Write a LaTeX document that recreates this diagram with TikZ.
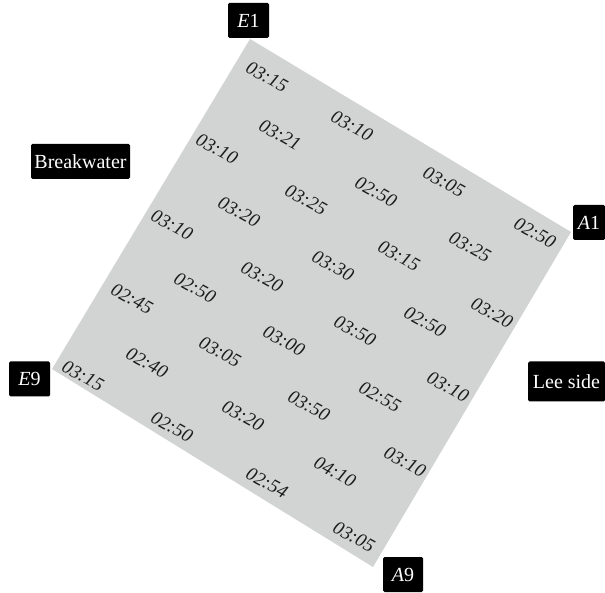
\documentclass[tikz,border=0pt]{standalone}
\usepackage{fontspec}
\setmainfont{Liberation Serif}
\definecolor{plate}{RGB}{210,211,211}
\definecolor{ink}{RGB}{28,28,28}
\begin{document}
\begin{tikzpicture}[x=1pt,y=-1pt,
  tag/.style={fill=black,text=white,rounded corners=1.5pt,inner sep=0pt,
    minimum height=35pt,font=\fontsize{20}{22}\selectfont},
  time/.style={rotate=-29,text=ink,inner sep=0pt,
    font=\fontsize{19}{21}\selectfont\itshape}]
\useasboundingbox (0,0) rectangle (605,593);

% corners of the measured plot
\coordinate (cE1) at (250,39);
\coordinate (cA1) at (571,232);
\coordinate (cA9) at (373,567);
\coordinate (cE9) at (52,369);
\fill[plate] (cE1) -- (cA1) -- (cA9) -- (cE9) -- cycle;

% corner and side labels
\node[tag,minimum width=41pt] (lE1) at (248.5,20.5) {{\itshape E}1};
\node[tag,minimum width=32pt] (lA1) at (589,222.5) {{\itshape A}1};
\node[tag,minimum width=40pt] (lA9) at (403,574.5) {{\itshape A}9};
\node[tag,minimum width=41pt] (lE9) at (29.5,379) {{\itshape E}9};
\node[tag,minimum width=99pt] (lBW) at (80.5,161.5) {Breakwater};
\node[tag,minimum width=77pt,minimum height=40pt] (lLS) at (566.5,381.5) {Lee side};

% arrival times
\node[time] (t1)  at (267,77)  {03:15};
\node[time] (t2)  at (280,135) {03:21};
\node[time] (t3)  at (352,126) {03:10};
\node[time] (t4)  at (217,149) {03:10};
\node[time] (t5)  at (444,182) {03:05};
\node[time] (t6)  at (376,192) {02:50};
\node[time] (t7)  at (306,200) {03:25};
\node[time] (t8)  at (239,212) {03:20};
\node[time] (t9)  at (172,225) {03:10};
\node[time] (t10) at (535,233) {02:50};
\node[time] (t11) at (470,247) {03:25};
\node[time] (t12) at (399,256) {03:15};
\node[time] (t13) at (333,266) {03:30};
\node[time] (t14) at (262,277) {03:20};
\node[time] (t15) at (195,288) {02:50};
\node[time] (t16) at (132,299) {02:45};
\node[time] (t17) at (492,313) {03:20};
\node[time] (t18) at (425,322) {02:50};
\node[time] (t19) at (355,331) {03:50};
\node[time] (t20) at (284,341) {03:00};
\node[time] (t21) at (220,352) {03:05};
\node[time] (t22) at (147,363) {02:40};
\node[time] (t23) at (83,376)  {03:15};
\node[time] (t24) at (448,387) {03:10};
\node[time] (t25) at (380,397) {02:55};
\node[time] (t26) at (309,406) {03:50};
\node[time] (t27) at (243,416) {03:20};
\node[time] (t28) at (172,427) {02:50};
\node[time] (t29) at (405,462) {03:10};
\node[time] (t30) at (335,472) {04:10};
\node[time] (t31) at (267,483) {02:54};
\node[time] (t32) at (354,537) {03:05};
\end{tikzpicture}
\end{document}
